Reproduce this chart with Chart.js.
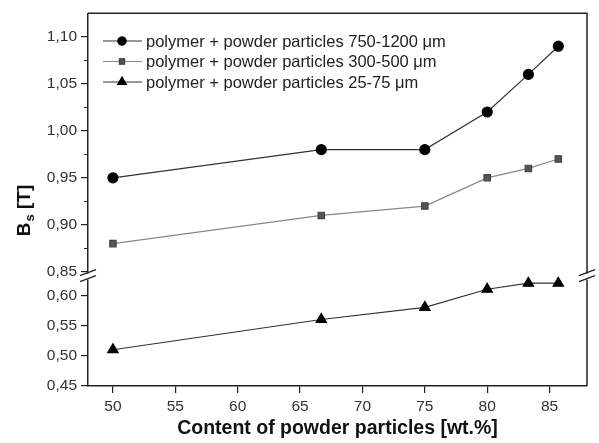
<!DOCTYPE html>
<html>
<head>
<meta charset="utf-8">
<script src="https://cdn.jsdelivr.net/npm/chart.js@4.4.0/dist/chart.umd.min.js"></script>
<style>
html, body { margin: 0; padding: 0; background: #fff; }
#wrap { width: 599px; height: 443px; }
</style>
</head>
<body>
<div id="wrap"><canvas id="c"></canvas></div>
<script>
// content of powder particles [wt.%]
const content = [50, 66.7, 75, 80, 83.3, 85.7];
// saturation induction Bs [T]
const bsLarge = [0.95, 0.98, 0.98, 1.02, 1.06, 1.09];
const bsMedium = [0.88, 0.91, 0.92, 0.95, 0.96, 0.97];
const bsSmall = [0.51, 0.56, 0.58, 0.61, 0.62, 0.62];
const seriesNames = [
    "polymer + powder particles 750-1200 \u03bcm",
    "polymer + powder particles 300-500 \u03bcm",
    "polymer + powder particles 25-75 \u03bcm"
];
const xTicks = [50, 55, 60, 65, 70, 75, 80, 85];
const upperTicks = [0.85, 0.90, 0.95, 1.00, 1.05, 1.10];
const lowerTicks = [0.45, 0.50, 0.55, 0.60];
const minorUpper = [0.875, 0.925, 0.975, 1.025, 1.075];

const FONT = "Arial, 'Liberation Sans', sans-serif";
const toPoints = (ys) => content.map((x, i) => ({x: x, y: ys[i]}));
const fmt = (v) => Number(v).toFixed(2).replace(".", ",");
const fixTicks = (list) => (s) => { s.ticks = list.map((v) => ({value: v})); };

let decor = {
    id: "decor",
    afterDraw(chart) {
        const ctx = chart.ctx;
        const area = chart.chartArea;
        const hi = chart.scales.yHi;
        const breakY = hi.bottom;
        ctx.save();
        ctx.strokeStyle = "#222";
        ctx.lineWidth = 1.5;
        // top and right frame
        ctx.beginPath();
        ctx.moveTo(area.left, area.top);
        ctx.lineTo(area.right, area.top);
        ctx.lineTo(area.right, area.bottom);
        ctx.stroke();
        // axis breaks
        for (const bx of [area.left, area.right]) {
            ctx.fillStyle = "#fff";
            ctx.fillRect(bx - 3, breakY - 3, 6, 6);
            ctx.lineWidth = 1.3;
            ctx.beginPath();
            ctx.moveTo(bx - 8, breakY - 1);
            ctx.lineTo(bx + 8, breakY - 7);
            ctx.moveTo(bx - 8, breakY + 5);
            ctx.lineTo(bx + 8, breakY - 1);
            ctx.stroke();
        }
        // minor ticks on the upper axis
        ctx.lineWidth = 1;
        ctx.beginPath();
        for (const v of minorUpper) {
            const py = Math.round(hi.getPixelForValue(v)) + 0.5;
            ctx.moveTo(area.left - 4, py);
            ctx.lineTo(area.left, py);
        }
        ctx.stroke();
        // y title: B_s [T]
        ctx.translate(25, 211);
        ctx.rotate(-Math.PI / 2);
        ctx.fillStyle = "#111";
        ctx.textBaseline = "middle";
        const big = "bold 19px " + FONT;
        const small = "bold 13px " + FONT;
        ctx.font = big;
        const wB = ctx.measureText("B").width;
        const wT = ctx.measureText(" [T]").width;
        ctx.font = small;
        const wS = ctx.measureText("s").width;
        let tx = -(wB + wS + wT) / 2;
        ctx.font = big;
        ctx.fillText("B", tx, 0);
        tx += wB;
        ctx.font = small;
        ctx.fillText("s", tx + 1, 5);
        tx += wS + 1;
        ctx.font = big;
        ctx.fillText(" [T]", tx, 0);
        ctx.restore();

        // legend inside the plot
        ctx.save();
        chart.data.datasets.forEach((ds, i) => {
            const ly = 41 + i * 20.5;
            ctx.strokeStyle = ds.borderColor;
            ctx.lineWidth = 1.2;
            ctx.beginPath();
            ctx.moveTo(103, ly);
            ctx.lineTo(142, ly);
            ctx.stroke();
            Chart.helpers.drawPoint(ctx, {
                pointStyle: ds.pointStyle,
                radius: ds.pointRadius * 0.8,
                rotation: 0,
                borderWidth: 1
            }, 122, ly);
            ctx.fillStyle = ds.pointBackgroundColor;
            ctx.strokeStyle = ds.pointBorderColor;
            ctx.fill();
            ctx.stroke();
            ctx.fillStyle = "#222";
            ctx.font = "16.5px " + FONT;
            ctx.textBaseline = "middle";
            ctx.fillText(ds.label, 146, ly + 1);
        });
        ctx.restore();
    }
};

const yTicks = {
    autoSkip: false,
    includeBounds: false,
    color: "#333",
    padding: 4,
    font: {size: 15.5, family: FONT},
    callback: (v) => fmt(v)
};
const yGrid = {drawOnChartArea: false, tickLength: 7, color: "#222", lineWidth: 1.2};

new Chart(document.getElementById("c"), {
    type: "line",
    data: {
        datasets: [{
            label: seriesNames[0],
            data: toPoints(bsLarge),
            yAxisID: "yHi",
            borderColor: "#333",
            borderWidth: 1.2,
            pointStyle: "circle",
            pointRadius: 5,
            pointBackgroundColor: "#000",
            pointBorderColor: "#000"
        }, {
            label: seriesNames[1],
            data: toPoints(bsMedium),
            yAxisID: "yHi",
            borderColor: "#888",
            borderWidth: 1.2,
            pointStyle: "rect",
            pointRadius: 4.5,
            pointBackgroundColor: "#555",
            pointBorderColor: "#444"
        }, {
            label: seriesNames[2],
            data: toPoints(bsSmall),
            yAxisID: "yLo",
            borderColor: "#333",
            borderWidth: 1.2,
            pointStyle: "triangle",
            pointRadius: 6,
            pointBackgroundColor: "#000",
            pointBorderColor: "#000"
        }]
    },
    options: {
        responsive: true,
        maintainAspectRatio: false,
        animation: false,
        layout: {autoPadding: false, padding: {left: 39, right: 12, top: 8, bottom: 0}},
        plugins: {legend: {display: false}, tooltip: {enabled: false}},
        elements: {line: {tension: 0}},
        scales: {
            x: {
                type: "linear",
                min: 48,
                max: 88,
                afterBuildTicks: fixTicks(xTicks),
                ticks: {autoSkip: false, color: "#333", padding: 4, font: {size: 15.5, family: FONT}},
                grid: {drawOnChartArea: false, tickLength: 7, color: "#222", lineWidth: 1.2},
                border: {color: "#222", width: 1.5},
                title: {
                    display: true,
                    text: "Content of powder particles [wt.%]",
                    color: "#111",
                    font: {size: 19.5, weight: "bold", family: FONT},
                    padding: {top: 2, bottom: 3}
                },
                afterFit: (s) => { s.height = 57; }
            },
            yLo: {
                type: "linear",
                position: "left",
                stack: "bs",
                stackWeight: 111,
                min: 0.45,
                max: 0.631,
                afterBuildTicks: fixTicks(lowerTicks),
                ticks: yTicks,
                grid: yGrid,
                border: {color: "#222", width: 1.5},
                afterFit: (s) => { s.width = 49; }
            },
            yHi: {
                type: "linear",
                position: "left",
                stack: "bs",
                stackWeight: 267,
                min: 0.845,
                max: 1.125,
                afterBuildTicks: fixTicks(upperTicks),
                ticks: yTicks,
                grid: yGrid,
                border: {color: "#222", width: 1.5},
                afterFit: (s) => { s.width = 49; }
            }
        }
    },
    plugins: [decor]
});
</script>
</body>
</html>
